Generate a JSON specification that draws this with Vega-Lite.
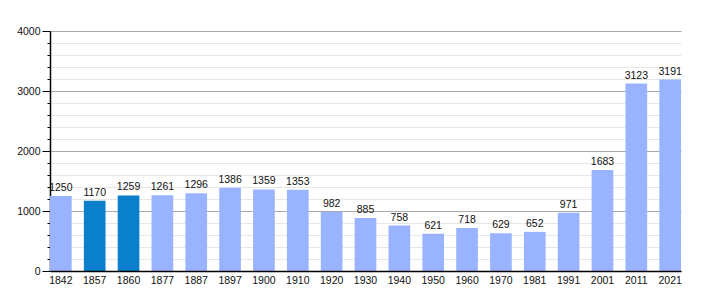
{
  "$schema": "https://vega.github.io/schema/vega-lite/v6.json",
  "width": 631,
  "height": 240,
  "autosize": {"type": "none"},
  "padding": {"left": 50, "top": 31, "right": 29, "bottom": 29},
  "background": "white",
  "config": {
    "view": {"stroke": null},
    "font": "Liberation Sans",
    "axis": {"labelFont": "Liberation Sans", "labelFontSize": 10.5, "labelColor": "#111"}
  },
  "data": {
    "values": [
      {"year": "1842", "pop": 1250},
      {"year": "1857", "pop": 1170},
      {"year": "1860", "pop": 1259},
      {"year": "1877", "pop": 1261},
      {"year": "1887", "pop": 1296},
      {"year": "1897", "pop": 1386},
      {"year": "1900", "pop": 1359},
      {"year": "1910", "pop": 1353},
      {"year": "1920", "pop": 982},
      {"year": "1930", "pop": 885},
      {"year": "1940", "pop": 758},
      {"year": "1950", "pop": 621},
      {"year": "1960", "pop": 718},
      {"year": "1970", "pop": 629},
      {"year": "1981", "pop": 652},
      {"year": "1991", "pop": 971},
      {"year": "2001", "pop": 1683},
      {"year": "2011", "pop": 3123},
      {"year": "2021", "pop": 3191}
    ]
  },
  "encoding": {
    "x": {
      "field": "year",
      "type": "ordinal",
      "sort": null,
      "scale": {"paddingInner": 0.36, "paddingOuter": 0},
      "axis": {
        "title": null,
        "labelAngle": 0,
        "ticks": false,
        "labelPadding": 4,
        "domainColor": "#000",
        "domainWidth": 1.5,
        "zindex": 2
      }
    },
    "y": {
      "field": "pop",
      "type": "quantitative",
      "scale": {"domain": [0, 4000], "nice": false},
      "axis": {
        "title": null,
        "values": [0,200,400,600,800,1000,1200,1400,1600,1800,2000,2200,2400,2600,2800,3000,3200,3400,3600,3800,4000],
        "labelExpr": "datum.value % 1000 === 0 ? datum.label : ''",
        "format": "d",
        "labelOverlap": false,
        "labelPadding": 2,
        "domainColor": "#000",
        "domainWidth": 1.5,
        "tickColor": "#000",
        "tickSize": {"condition": {"test": "datum.value % 1000 === 0", "value": 8}, "value": 3},
        "grid": true,
        "gridColor": {"condition": {"test": "datum.value % 1000 === 0", "value": "#aaaaaa"}, "value": "#e6e6e6"},
        "zindex": 0
      }
    }
  },
  "layer": [
    {
      "mark": {"type": "bar"},
      "encoding": {
        "color": {
          "condition": {"test": "datum.year === '1857' || datum.year === '1860'", "value": "#0a7fcc"},
          "value": "#99b3ff"
        }
      }
    },
    {
      "mark": {"type": "text", "baseline": "alphabetic", "dy": -5, "fontSize": 10.5, "color": "#111", "font": "Liberation Sans"},
      "encoding": {"text": {"field": "pop", "type": "quantitative", "format": "d"}}
    }
  ]
}
